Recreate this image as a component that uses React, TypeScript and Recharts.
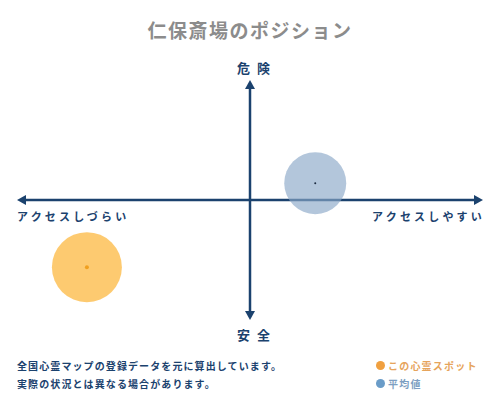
import { ScatterChart, Scatter, XAxis, YAxis, ReferenceLine } from "recharts";

// positions on a -100..100 grid (x: アクセス, y: 危険度)
const spotPoint = [{ access: -70, danger: -56 }];
const averagePoint = [{ access: 28, danger: 14 }];
const axisDomain = [-100, 100];

const titleText = "仁保斎場のポジション";
const topLabel = "危険";
const bottomLabel = "安全";
const leftLabel = "アクセスしづらい";
const rightLabel = "アクセスしやすい";
const noteLines = [
  "全国心霊マップの登録データを元に算出しています。",
  "実際の状況とは異なる場合があります。",
];
const legendItems = ["この心霊スポット", "平均値"];

const navy = "#1b426e";
const font = '"Noto Sans CJK JP", "Noto Sans", sans-serif';

function ArrowLine(props: any) {
  const { x1, y1, x2, y2 } = props;
  const vertical = Math.abs(x1 - x2) < 1;
  const a = 5;
  const l = 9;
  if (vertical) {
    const top = Math.min(y1, y2);
    const bot = Math.max(y1, y2);
    return (
      <g>
        <line x1={x1} y1={top + 4} x2={x1} y2={bot - 4} stroke={navy} strokeWidth={2.5} />
        <polygon points={`${x1},${top} ${x1 - a},${top + l} ${x1 + a},${top + l}`} fill={navy} />
        <polygon points={`${x1},${bot} ${x1 - a},${bot - l} ${x1 + a},${bot - l}`} fill={navy} />
      </g>
    );
  }
  const left = Math.min(x1, x2);
  const right = Math.max(x1, x2);
  return (
    <g>
      <line x1={left + 4} y1={y1} x2={right - 4} y2={y1} stroke={navy} strokeWidth={2.5} />
      <polygon points={`${left},${y1} ${left + l},${y1 - a} ${left + l},${y1 + a}`} fill={navy} />
      <polygon points={`${right},${y1} ${right - l},${y1 - a} ${right - l},${y1 + a}`} fill={navy} />
    </g>
  );
}

function SpotShape(props: any) {
  const { cx, cy } = props;
  return (
    <g>
      <circle cx={cx} cy={cy} r={35} fill="#fdc461" fillOpacity={0.9} />
      <circle cx={cx} cy={cy} r={2} fill="#f0a020" />
    </g>
  );
}

function AverageShape(props: any) {
  const { cx, cy } = props;
  return (
    <g>
      <circle cx={cx} cy={cy} r={31} fill="#8aa8c8" fillOpacity={0.65} />
      <circle cx={cx} cy={cy} r={1} fill="#1b2a40" />
    </g>
  );
}

const abs = (style: any) => ({ position: "absolute" as const, fontFamily: font, whiteSpace: "nowrap" as const, ...style });

export default function App() {
  return (
    <div style={{ position: "absolute", left: 0, top: 0, width: 500, height: 400, background: "#fff" }}>
      <div style={abs({ left: 0, width: 500, top: 16, textAlign: "center", fontSize: 19, color: "#8c8c8c", letterSpacing: 1.5, fontWeight: 700 })}>
        {titleText}
      </div>
      <ScatterChart width={500} height={400} margin={{ top: 80, right: 17, bottom: 80, left: 17 }}>
        <XAxis type="number" dataKey="access" domain={axisDomain} hide />
        <YAxis type="number" dataKey="danger" domain={axisDomain} hide />
        <ReferenceLine x={0} shape={ArrowLine} />
        <ReferenceLine y={0} shape={ArrowLine} />
        <Scatter data={averagePoint} shape={AverageShape} isAnimationActive={false} />
        <Scatter data={spotPoint} shape={SpotShape} isAnimationActive={false} />
      </ScatterChart>
      <div style={abs({ left: 0, width: 500, top: 58, textAlign: "center", fontSize: 13, fontWeight: 700, color: navy, letterSpacing: 7, paddingLeft: 7 })}>
        {topLabel}
      </div>
      <div style={abs({ left: 0, width: 500, top: 325, textAlign: "center", fontSize: 13, fontWeight: 700, color: navy, letterSpacing: 7, paddingLeft: 7 })}>
        {bottomLabel}
      </div>
      <div style={abs({ left: 17, top: 208, fontSize: 11, fontWeight: 700, color: navy, letterSpacing: 3.2 })}>
        {leftLabel}
      </div>
      <div style={abs({ right: 15, top: 208, fontSize: 11, fontWeight: 700, color: navy, letterSpacing: 3.2 })}>
        {rightLabel}
      </div>
      {noteLines.map((t, i) => (
        <div key={t} style={abs({ left: 17, top: 358 + i * 18, fontSize: 10, fontWeight: 700, color: navy, letterSpacing: 1.1 })}>
          {t}
        </div>
      ))}
      {legendItems.map((t, i) => (
        <div key={t} style={abs({ left: 376, top: 358 + i * 18, fontSize: 10, fontWeight: 700, color: i === 0 ? "#e6a45c" : "#7d9fc2", letterSpacing: 1.2, display: "flex", alignItems: "center" })}>
          <span style={{ display: "inline-block", width: 9, height: 9, borderRadius: 5, background: i === 0 ? "#f0a040" : "#6a9cc8", marginRight: 3 }} />
          {t}
        </div>
      ))}
    </div>
  );
}
